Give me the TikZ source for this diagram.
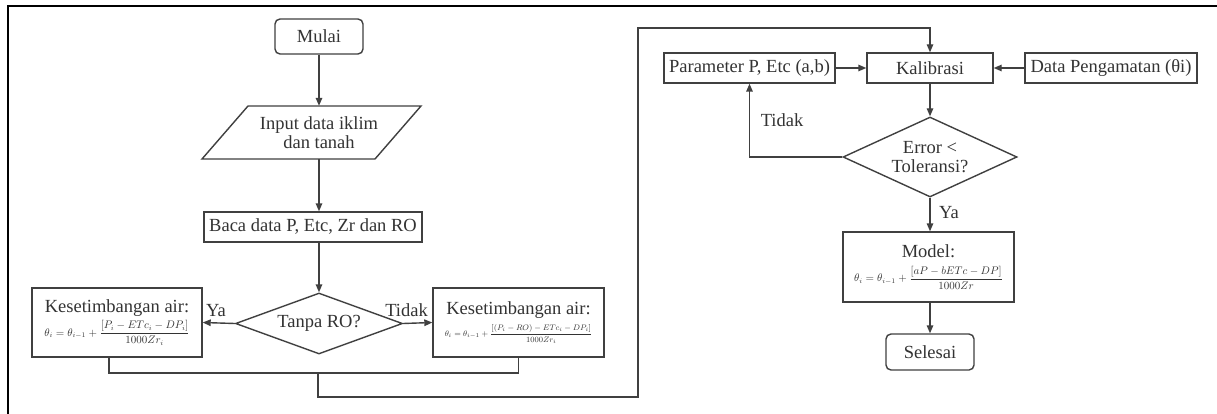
\documentclass[tikz,border=0pt]{standalone}
\usepackage{fontspec}
\setmainfont{Liberation Serif}
\usetikzlibrary{shapes.geometric,arrows.meta}
\definecolor{ink}{HTML}{333333}
\definecolor{edge}{HTML}{404040}
\begin{document}
\begin{tikzpicture}[x=1pt,y=-1pt,
  txt/.style={text=ink,font=\fontsize{18.5}{21}\selectfont},
  box/.style={txt,draw=edge,line width=1.4pt,inner sep=0pt,align=center},
  term/.style={box,rounded corners=5pt},
  dec/.style={box,diamond},
  link/.style={draw=edge,line width=1.4pt},
  flow/.style={link,-{Triangle[length=8pt,width=6.5pt]}},
  lbl/.style={txt,inner sep=0pt}]

% canvas and frame
\useasboundingbox (0,0) rectangle (1217,414);
\fill[white] (0,0) rectangle (1217,414);
\draw[black,line width=2pt] (8,414) -- (8,6) -- (1217,6);

% ---- left part: water balance ----
\node[term,minimum width=88pt,minimum height=35pt] (mulai) at (319,36.5) {Mulai};

\draw[box] (248,106) -- (421,106) -- (375,159) -- (202,159) -- cycle;
\node[lbl,align=center,minimum width=120pt,minimum height=53pt] (input) at (319,132.5)
  {Input data iklim\\[-2pt]dan tanah};

\node[box,minimum width=218pt,minimum height=30pt] (baca) at (313,227) {Baca data P, Etc, Zr dan RO};

\node[dec,minimum width=167pt,minimum height=61pt,aspect=2.74] (tanpa) at (319,323.5) {Tanpa RO?};

\node[box,minimum width=170pt,minimum height=69pt] (kiri) at (117,322.5)
  {Kesetimbangan air:\\[3pt]
   {\fontsize{10.6}{12}\selectfont\color{ink}$\displaystyle\theta_i=\theta_{i-1}+\frac{[P_i-ETc_i-DP_i]}{1000Zr_i}$}};
\node[box,minimum width=171pt,minimum height=69pt] (kanan) at (518.5,322.5)
  {Kesetimbangan air:\\[1pt]
   {\fontsize{8.3}{10}\selectfont\color{ink}$\displaystyle\theta_i=\theta_{i-1}+\frac{[(P_i-RO)-ETc_i-DP_i]}{1000Zr_i}$}};

\draw[flow] (mulai.south) -- (mulai.south |- input.north);
\draw[flow] (input.south) -- (input.south |- baca.north);
\draw[flow] (baca.south -| tanpa.north) -- (tanpa.north);
\draw[flow] (tanpa.west) -- (kiri.east);
\draw[flow] (tanpa.east) -- (kanan.west);
\node[lbl,anchor=south] (ya1) at (216,317) {Ya};
\node[lbl,anchor=south east] (tidak1) at (428,317) {Tidak};

% merge of both branches
\coordinate (mrg) at (318,373);
\draw[link] (kiri.south -| 109,0) |- (mrg) -| (kanan.south);

% ---- right part: calibration ----
\node[box,minimum width=171pt,minimum height=30pt] (param) at (749.5,68) {Parameter P, Etc (a,b)};
\node[box,minimum width=126pt,minimum height=30pt] (kalib) at (930,68) {Kalibrasi};
\node[box,minimum width=172pt,minimum height=30pt] (data) at (1111,68) {Data Pengamatan (θi)};

\node[dec,minimum width=174pt,minimum height=80pt,aspect=2.175] (err) at (930,157)
  {Error <\\[-2pt]Toleransi?};

\node[box,minimum width=171pt,minimum height=70pt] (model) at (928.5,267)
  {Model:\\[3pt]
   {\color{ink}\fontsize{10.6}{12}\selectfont$\displaystyle\theta_i=\theta_{i-1}+\frac{[aP-bETc-DP]}{1000Zr}$}};

\node[term,minimum width=88pt,minimum height=36pt] (selesai) at (930,352) {Selesai};

\draw[flow] (mrg) -- (318,397) -- (638,397) -- (638,28) -| (kalib.north);
\draw[flow] (param.east) -- (kalib.west);
\draw[flow] (data.west) -- (kalib.east);
\draw[flow] (kalib.south) -- (err.north);
\draw[flow] (err.west) -| (param.south);
\draw[flow] (err.south) -- (err.south |- model.north);
\draw[flow] (model.south -| selesai.north) -- (selesai.north);
\node[lbl] (tidak2) at (782,120) {Tidak};
\node[lbl] (ya2) at (949,213) {Ya};
\end{tikzpicture}
\end{document}
